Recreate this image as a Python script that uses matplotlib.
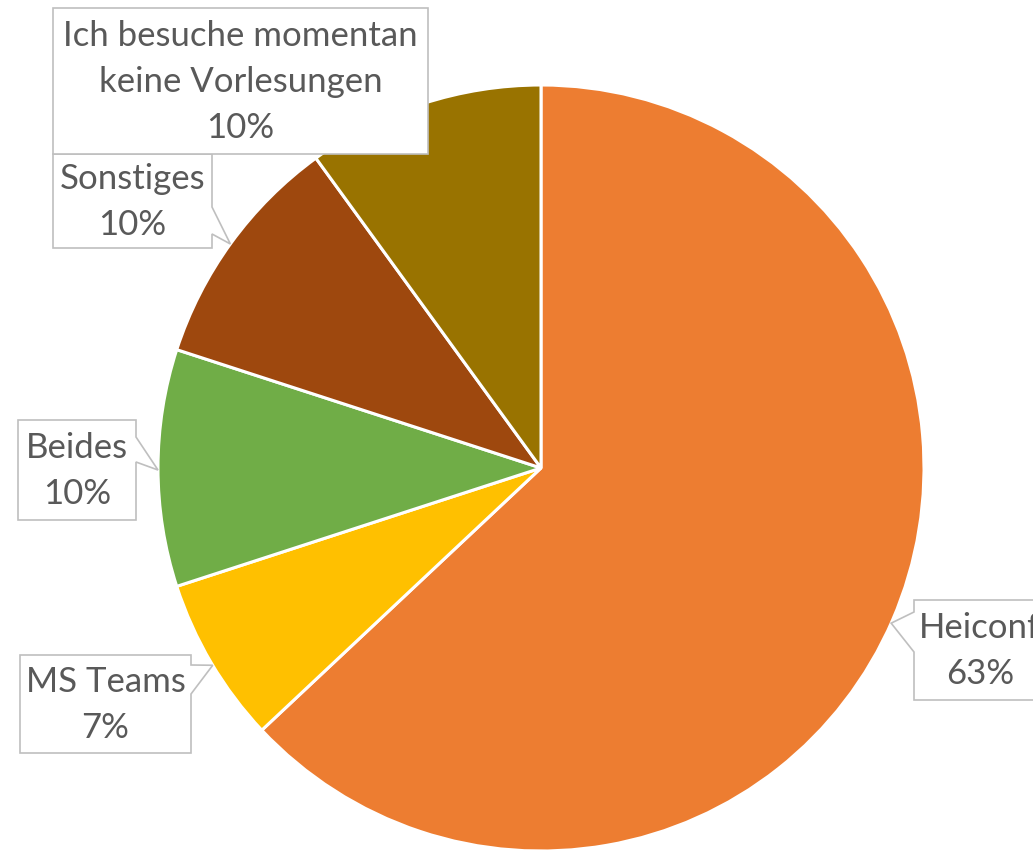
import numpy as np
import matplotlib.pyplot as plt
from matplotlib.patches import Polygon

labels = ['Heiconf', 'MS Teams', 'Beides', 'Sonstiges',
          'Ich besuche momentan\nkeine Vorlesungen']
shares = [63, 7, 10, 10, 10]
colors = ['#ED7D31', '#FFC000', '#70AD47', '#9E480E', '#997300']

# callout layout in pixels (y down): box, pointer side, pointer base, tip angle
boxes = [(914, 600, 1046, 700), (20, 655, 191, 753), (18, 420, 136, 520),
         (53, 154, 212, 248), (53, 8, 428, 154)]
sides = ['left', 'right', 'right', 'right', None]
bases = [(612, 652), (665, 694), (437, 462), (207, 234), None]
tip_angles = [23.9, 149.0, 179.7, 215.8, None]

W, H = 1033, 852
cx, cy, r = 541, 468, 383

fig = plt.figure(figsize=(W / 100, H / 100), dpi=100)
ax = fig.add_axes([0, 0, 1, 1])
ax.pie(shares, colors=colors, center=(cx, cy), radius=r,
       startangle=270, counterclock=True,
       wedgeprops=dict(edgecolor='white', linewidth=2.2))
ax.set_xlim(0, W)
ax.set_ylim(H, 0)
ax.set_aspect('auto')
ax.axis('off')


def callout(box, side, base, tip):
    x0, y0, x1, y1 = box
    pts = [(x0, y0), (x1, y0)]
    if side == 'right':
        pts += [(x1, base[0]), tip, (x1, base[1])]
    pts += [(x1, y1), (x0, y1)]
    if side == 'left':
        pts += [(x0, base[1]), tip, (x0, base[0])]
    return Polygon(pts, closed=True, facecolor='white', edgecolor='#BFBFBF',
                   linewidth=1.2, zorder=5)


for lab, val, box, side, base, ang in zip(labels, shares, boxes, sides,
                                          bases, tip_angles):
    tip = None
    if ang is not None:
        a = np.deg2rad(ang)
        tip = (cx + r * np.cos(a), cy + r * np.sin(a))
    ax.add_patch(callout(box, side, base, tip))
    ax.text((box[0] + box[2]) / 2, (box[1] + box[3]) / 2 + 1,
            f'{lab}\n{val}%', ha='center', va='center', color='#595959',
            fontsize=25, family='Lato', linespacing=1.52, zorder=6)

fig.savefig('out.png', dpi=100)
